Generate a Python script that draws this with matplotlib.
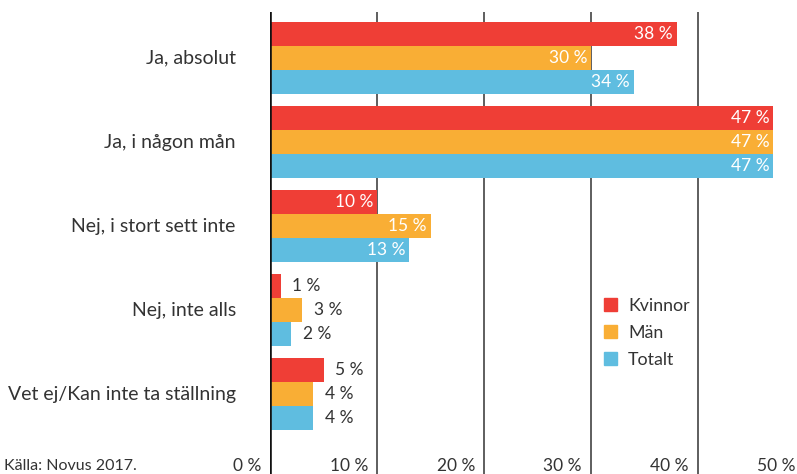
import numpy as np
import matplotlib.pyplot as plt
from matplotlib.patches import Patch

plt.rcParams['font.family'] = ['Lato', 'DejaVu Sans']

# data
categories = ['Ja, absolut', 'Ja, i någon mån', 'Nej, i stort sett inte',
              'Nej, inte alls', 'Vet ej/Kan inte ta ställning']
kvinnor = [38, 47, 10, 1, 5]
man = [30, 47, 15, 3, 4]
totalt = [34, 47, 13, 2, 4]
series_names = ['Kvinnor', 'Män', 'Totalt']
ticks = [0, 10, 20, 30, 40, 50]
source = 'Källa: Novus 2017.'

colors = ['#EF3E36', '#F9AE35', '#5FBDE0']
txt = '#333333'

fig = plt.figure(figsize=(7.97, 4.74), dpi=100)
ax = fig.add_axes([270 / 797, 0, 527 / 797, 462 / 474])

h = 24 / 84
y = np.arange(len(categories))
for k, vals in enumerate([kvinnor, man, totalt]):
    pos = y + (k - 1) * h
    ax.barh(pos, vals, height=h, color=colors[k], zorder=3)
    for yy, v in zip(pos, vals):
        if v >= 8:
            ax.text(v - 0.35, yy, f'{v} %', ha='right', va='center',
                    color='white', fontsize=12.5, zorder=4)
        else:
            ax.text(v + 1.1, yy, f'{v} %', ha='left', va='center',
                    color=txt, fontsize=12.5, zorder=4)

ax.set_xlim(0, 49.25)
ax.set_ylim(4.952, -0.548)

# grid lines and zero line
for t in ticks[1:]:
    ax.axvline(t, color='#333333', lw=1.1, zorder=1)
ax.axvline(0, color='#111111', lw=2.6, zorder=5)

# tick labels drawn at bottom
for t in ticks:
    ax.text(t - 0.85, 4.857, f'{t} %', ha='right', va='center',
            color=txt, fontsize=12.5, clip_on=False)

for i, c in enumerate(categories):
    ax.text(-3.2, i, c, ha='right', va='center', color=txt,
            fontsize=14, clip_on=False)

fig.text(4 / 797, 1 - 466 / 474, source, ha='left', va='center',
         color=txt, fontsize=11.5)

for s in ax.spines.values():
    s.set_visible(False)
ax.set_xticks([])
ax.set_yticks([])

handles = [Patch(color=c) for c in colors]
leg = ax.legend(handles, series_names, loc='upper left',
                bbox_to_anchor=(0.634, 0.382), frameon=False,
                fontsize=12.8, handlelength=0.75, handleheight=0.75,
                handletextpad=0.6, labelspacing=0.62, borderpad=0,
                borderaxespad=0)
for t in leg.get_texts():
    t.set_color(txt)

fig.savefig('out.png', dpi=100)
